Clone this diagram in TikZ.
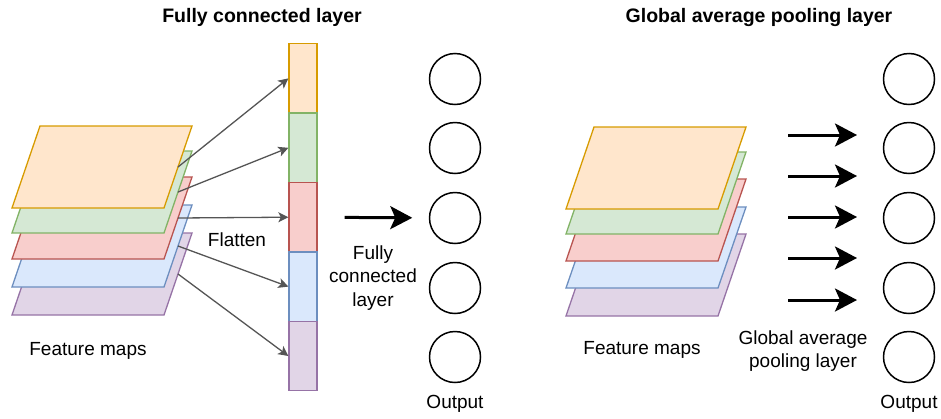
\documentclass[tikz,border=0pt]{standalone}
\usepackage{fontspec}
\setmainfont{Liberation Sans}
\usetikzlibrary{arrows.meta}

\definecolor{orfill}{HTML}{FFE6CC}\definecolor{ordraw}{HTML}{D79B00}
\definecolor{grfill}{HTML}{D5E8D4}\definecolor{grdraw}{HTML}{82B366}
\definecolor{rdfill}{HTML}{F8CECC}\definecolor{rddraw}{HTML}{B85450}
\definecolor{blfill}{HTML}{DAE8FC}\definecolor{bldraw}{HTML}{6C8EBF}
\definecolor{pufill}{HTML}{E1D5E7}\definecolor{pudraw}{HTML}{9673A6}
\definecolor{linkgray}{HTML}{555555}

\begin{document}
\begin{tikzpicture}[x=1pt,y=-1pt,line width=1.3pt,
  txt/.style={font=\fontsize{19}{23.5}\selectfont,align=center,inner sep=0pt},
  title/.style={font=\fontsize{19.5}{23}\selectfont\bfseries,inner sep=0pt},
  cell/.style={draw,rectangle,minimum width=28pt,minimum height=69.4pt,inner sep=0pt},
  unit/.style={draw,circle,minimum size=51pt,inner sep=0pt,line width=1.5pt},
  link/.style={linkgray,line width=1.3pt,-{Stealth[length=10pt,width=10pt,inset=2.5pt]}},
  big/.style={line width=3pt,-{Stealth[length=22pt,width=23pt,inset=5pt]}}]
  \useasboundingbox (0,0) rectangle (941,418);

  %titles
  \node[title] (t1) at (262,17) {Fully connected layer};
  \node[title] (t2) at (759,17) {Global average pooling layer};

  %feature maps (left)
  \draw[pudraw,fill=pufill] (12,315) -- (164,315) -- (192,233) -- (40,233) -- cycle;
  \draw[bldraw,fill=blfill] (12,287) -- (164,287) -- (192,205) -- (40,205) -- cycle;
  \draw[rddraw,fill=rdfill] (12,259) -- (164,259) -- (192,177) -- (40,177) -- cycle;
  \draw[grdraw,fill=grfill] (12,233) -- (164,233) -- (192,151) -- (40,151) -- cycle;
  \draw[ordraw,fill=orfill] (12,208) -- (164,208) -- (192,126) -- (40,126) -- cycle;
  \coordinate (m1) at (178,167);
  \coordinate (m2) at (178,192);
  \coordinate (m3) at (178,218);
  \coordinate (m4) at (178,246);
  \coordinate (m5) at (178,274);
  \node[txt] (fm1) at (88,351) {Feature maps};

  %flattened vector
  \node[cell,draw=ordraw,fill=orfill] (c1) at (303,78.4) {};
  \node[cell,draw=grdraw,fill=grfill] (c2) at (303,147.8) {};
  \node[cell,draw=rddraw,fill=rdfill] (c3) at (303,217.2) {};
  \node[cell,draw=bldraw,fill=blfill] (c4) at (303,286.6) {};
  \node[cell,draw=pudraw,fill=pufill] (c5) at (303,356) {};
  \node[txt] (fl) at (237,240) {Flatten};

  \draw[link] (m1) -- (c1.west);
  \draw[link] (m2) -- (c2.west);
  \draw[link] (m3) -- (c3.west);
  \draw[link] (m4) -- (c4.west);
  \draw[link] (m5) -- (c5.west);

  %output units (left)
  \node[unit] (u1) at (455,79) {};
  \node[unit] (u2) at (455,148) {};
  \node[unit] (u3) at (455,218) {};
  \node[unit] (u4) at (455,288) {};
  \node[unit] (u5) at (455,357) {};
  \node[txt] (o1) at (455,404) {Output};

  \draw[big,shorten <=27pt,shorten >=16.5pt] (c3) -- (u3);
  \node[txt] (fc) at (373,278) {Fully\\connected\\layer};

  %feature maps (right)
  \draw[pudraw,fill=pufill] (566,316) -- (718,316) -- (746,234) -- (594,234) -- cycle;
  \draw[bldraw,fill=blfill] (566,288) -- (718,288) -- (746,207) -- (594,207) -- cycle;
  \draw[rddraw,fill=rdfill] (566,261) -- (718,261) -- (746,179) -- (594,179) -- cycle;
  \draw[grdraw,fill=grfill] (566,234) -- (718,234) -- (746,152) -- (594,152) -- cycle;
  \draw[ordraw,fill=orfill] (566,209) -- (718,209) -- (746,127) -- (594,127) -- cycle;
  \node[txt] (fm2) at (642,350) {Feature maps};

  %pooling arrows
  \coordinate (g1) at (788,135);  \coordinate (h1) at (857,135);
  \coordinate (g2) at (788,176);  \coordinate (h2) at (857,176);
  \coordinate (g3) at (788,217);  \coordinate (h3) at (857,217);
  \coordinate (g4) at (788,258);  \coordinate (h4) at (857,258);
  \coordinate (g5) at (788,300);  \coordinate (h5) at (857,300);
  \draw[big] (g1) -- (h1);
  \draw[big] (g2) -- (h2);
  \draw[big] (g3) -- (h3);
  \draw[big] (g4) -- (h4);
  \draw[big] (g5) -- (h5);
  \node[txt] (gap) at (803,351) {Global average\\pooling layer};

  %output units (right)
  \node[unit] (v1) at (909,79) {};
  \node[unit] (v2) at (909,148) {};
  \node[unit] (v3) at (909,218) {};
  \node[unit] (v4) at (909,288) {};
  \node[unit] (v5) at (909,357) {};
  \node[txt] (o2) at (909,404) {Output};
\end{tikzpicture}
\end{document}
